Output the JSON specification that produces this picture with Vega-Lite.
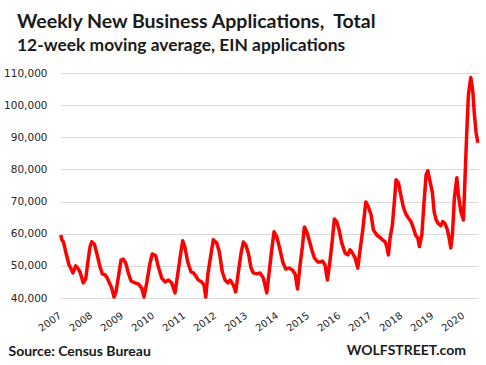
{
  "$schema": "https://vega.github.io/schema/vega-lite/v6.json",
  "width": 418,
  "height": 225,
  "autosize": "none",
  "padding": {"left": 60, "top": 73, "right": 8, "bottom": 67},
  "background": "white",
  "config": {"view": {"stroke": null}},
  "title": {
    "text": "Weekly New Business Applications,\u00a0 Total",
    "subtitle": "12-week moving average, EIN applications",
    "anchor": "start",
    "frame": "group",
    "dx": -43,
    "font": "Lato",
    "fontSize": 19.5,
    "fontWeight": "bold",
    "color": "#1a1a1a",
    "subtitleFont": "Lato",
    "subtitleFontSize": 17.4,
    "subtitleFontWeight": "bold",
    "subtitleColor": "#1a1a1a",
    "subtitlePadding": 4,
    "offset": 13
  },
  "datasets": {
    "series": [
      {"year": 2007.023, "apps": 59600},
      {"year": 2007.065, "apps": 58000},
      {"year": 2007.113, "apps": 57400},
      {"year": 2007.194, "apps": 54000},
      {"year": 2007.290, "apps": 50300},
      {"year": 2007.377, "apps": 48700},
      {"year": 2007.419, "apps": 47800},
      {"year": 2007.506, "apps": 50000},
      {"year": 2007.571, "apps": 49300},
      {"year": 2007.645, "apps": 48100},
      {"year": 2007.752, "apps": 44700},
      {"year": 2007.829, "apps": 45900},
      {"year": 2007.894, "apps": 50900},
      {"year": 2007.968, "apps": 55900},
      {"year": 2008.023, "apps": 57500},
      {"year": 2008.106, "apps": 56800},
      {"year": 2008.184, "apps": 54000},
      {"year": 2008.290, "apps": 49700},
      {"year": 2008.365, "apps": 47500},
      {"year": 2008.452, "apps": 47200},
      {"year": 2008.506, "apps": 46500},
      {"year": 2008.581, "apps": 45000},
      {"year": 2008.668, "apps": 43100},
      {"year": 2008.742, "apps": 40300},
      {"year": 2008.806, "apps": 41900},
      {"year": 2008.903, "apps": 47800},
      {"year": 2008.968, "apps": 51800},
      {"year": 2009.042, "apps": 52100},
      {"year": 2009.119, "apps": 50900},
      {"year": 2009.203, "apps": 47800},
      {"year": 2009.290, "apps": 45300},
      {"year": 2009.419, "apps": 44700},
      {"year": 2009.526, "apps": 44400},
      {"year": 2009.635, "apps": 43100},
      {"year": 2009.710, "apps": 40300},
      {"year": 2009.797, "apps": 44700},
      {"year": 2009.903, "apps": 50900},
      {"year": 2009.977, "apps": 53700},
      {"year": 2010.087, "apps": 53100},
      {"year": 2010.171, "apps": 49700},
      {"year": 2010.281, "apps": 46200},
      {"year": 2010.387, "apps": 45000},
      {"year": 2010.494, "apps": 45600},
      {"year": 2010.603, "apps": 44700},
      {"year": 2010.710, "apps": 41600},
      {"year": 2010.816, "apps": 48700},
      {"year": 2010.894, "apps": 54000},
      {"year": 2010.958, "apps": 57800},
      {"year": 2011.032, "apps": 55600},
      {"year": 2011.119, "apps": 51200},
      {"year": 2011.226, "apps": 48100},
      {"year": 2011.300, "apps": 47800},
      {"year": 2011.377, "apps": 46900},
      {"year": 2011.461, "apps": 45600},
      {"year": 2011.571, "apps": 45000},
      {"year": 2011.645, "apps": 44000},
      {"year": 2011.700, "apps": 40300},
      {"year": 2011.765, "apps": 47200},
      {"year": 2011.839, "apps": 51800},
      {"year": 2011.945, "apps": 58100},
      {"year": 2012.055, "apps": 57100},
      {"year": 2012.139, "apps": 54300},
      {"year": 2012.235, "apps": 48100},
      {"year": 2012.323, "apps": 45600},
      {"year": 2012.410, "apps": 44700},
      {"year": 2012.484, "apps": 45600},
      {"year": 2012.590, "apps": 44000},
      {"year": 2012.668, "apps": 41900},
      {"year": 2012.752, "apps": 48100},
      {"year": 2012.839, "apps": 54000},
      {"year": 2012.913, "apps": 57400},
      {"year": 2012.990, "apps": 56500},
      {"year": 2013.074, "apps": 54000},
      {"year": 2013.161, "apps": 49300},
      {"year": 2013.235, "apps": 47800},
      {"year": 2013.345, "apps": 47500},
      {"year": 2013.452, "apps": 47800},
      {"year": 2013.558, "apps": 46200},
      {"year": 2013.668, "apps": 41600},
      {"year": 2013.742, "apps": 47800},
      {"year": 2013.829, "apps": 55000},
      {"year": 2013.903, "apps": 60600},
      {"year": 2013.990, "apps": 59000},
      {"year": 2014.097, "apps": 55000},
      {"year": 2014.184, "apps": 51200},
      {"year": 2014.281, "apps": 49000},
      {"year": 2014.387, "apps": 49300},
      {"year": 2014.494, "apps": 48700},
      {"year": 2014.581, "apps": 47500},
      {"year": 2014.661, "apps": 42800},
      {"year": 2014.742, "apps": 50300},
      {"year": 2014.816, "apps": 55900},
      {"year": 2014.881, "apps": 62100},
      {"year": 2014.958, "apps": 60600},
      {"year": 2015.032, "apps": 58100},
      {"year": 2015.119, "apps": 55000},
      {"year": 2015.203, "apps": 52500},
      {"year": 2015.313, "apps": 51200},
      {"year": 2015.387, "apps": 51200},
      {"year": 2015.461, "apps": 51500},
      {"year": 2015.548, "apps": 50300},
      {"year": 2015.623, "apps": 45600},
      {"year": 2015.710, "apps": 51800},
      {"year": 2015.784, "apps": 58100},
      {"year": 2015.848, "apps": 64600},
      {"year": 2015.926, "apps": 63700},
      {"year": 2016.000, "apps": 61200},
      {"year": 2016.087, "apps": 57100},
      {"year": 2016.194, "apps": 54000},
      {"year": 2016.281, "apps": 53400},
      {"year": 2016.355, "apps": 55000},
      {"year": 2016.429, "apps": 54000},
      {"year": 2016.516, "apps": 52500},
      {"year": 2016.603, "apps": 49300},
      {"year": 2016.677, "apps": 55000},
      {"year": 2016.765, "apps": 61200},
      {"year": 2016.861, "apps": 69900},
      {"year": 2016.945, "apps": 68300},
      {"year": 2017.032, "apps": 65900},
      {"year": 2017.106, "apps": 61200},
      {"year": 2017.216, "apps": 59600},
      {"year": 2017.323, "apps": 58800},
      {"year": 2017.397, "apps": 58100},
      {"year": 2017.484, "apps": 57500},
      {"year": 2017.539, "apps": 56000},
      {"year": 2017.590, "apps": 53400},
      {"year": 2017.645, "apps": 58700},
      {"year": 2017.719, "apps": 62700},
      {"year": 2017.774, "apps": 69000},
      {"year": 2017.839, "apps": 76800},
      {"year": 2017.913, "apps": 75800},
      {"year": 2017.990, "apps": 72100},
      {"year": 2018.074, "apps": 68300},
      {"year": 2018.152, "apps": 66200},
      {"year": 2018.235, "apps": 64900},
      {"year": 2018.323, "apps": 63700},
      {"year": 2018.397, "apps": 61800},
      {"year": 2018.474, "apps": 59400},
      {"year": 2018.539, "apps": 58700},
      {"year": 2018.590, "apps": 56000},
      {"year": 2018.668, "apps": 59600},
      {"year": 2018.742, "apps": 70000},
      {"year": 2018.806, "apps": 78300},
      {"year": 2018.861, "apps": 79600},
      {"year": 2018.935, "apps": 76200},
      {"year": 2019.010, "apps": 72700},
      {"year": 2019.065, "apps": 66900},
      {"year": 2019.129, "apps": 64300},
      {"year": 2019.203, "apps": 63100},
      {"year": 2019.281, "apps": 62500},
      {"year": 2019.345, "apps": 63800},
      {"year": 2019.419, "apps": 63100},
      {"year": 2019.494, "apps": 61200},
      {"year": 2019.548, "apps": 58700},
      {"year": 2019.603, "apps": 55600},
      {"year": 2019.655, "apps": 59600},
      {"year": 2019.719, "apps": 71200},
      {"year": 2019.797, "apps": 77400},
      {"year": 2019.848, "apps": 72100},
      {"year": 2019.926, "apps": 66900},
      {"year": 2020.010, "apps": 64300},
      {"year": 2020.065, "apps": 78300},
      {"year": 2020.119, "apps": 91800},
      {"year": 2020.171, "apps": 103200},
      {"year": 2020.248, "apps": 108600},
      {"year": 2020.313, "apps": 104300},
      {"year": 2020.365, "apps": 97000},
      {"year": 2020.419, "apps": 91400},
      {"year": 2020.474, "apps": 88300}
    ],
    "credit": [{"label": "WOLFSTREET.com"}]
  },
  "layer": [
    {
      "data": {"name": "series"},
      "mark": {"type": "line", "color": "#ff0000", "strokeWidth": 3.5, "strokeJoin": "round"},
      "encoding": {
        "x": {
          "field": "year",
          "type": "quantitative",
          "scale": {"domain": [2007, 2020.48], "nice": false, "zero": false},
          "axis": {
            "values": [2007, 2008, 2009, 2010, 2011, 2012, 2013, 2014, 2015, 2016, 2017, 2018, 2019, 2020],
            "format": "d",
            "grid": false,
            "domain": false,
            "ticks": false,
            "labelAngle": -36,
            "labelAlign": "right",
            "labelBaseline": "top",
            "labelPadding": 12,
            "labelOffset": -3,
            "labelFont": "DejaVu Sans",
            "labelFontSize": 10,
            "labelColor": "#262626",
            "labelOverlap": false,
            "title": "Source: Census Bureau",
            "titleFont": "Lato",
            "titleFontSize": 14,
            "titleFontWeight": "bold",
            "titleColor": "#1a1a1a",
            "titleAnchor": "start",
            "titleAlign": "left",
            "titleBaseline": "alphabetic",
            "titleX": -52,
            "titleY": 57
          }
        },
        "y": {
          "field": "apps",
          "type": "quantitative",
          "scale": {"domain": [40000, 110000], "nice": false, "zero": false},
          "axis": {
            "values": [40000, 50000, 60000, 70000, 80000, 90000, 100000, 110000],
            "format": ",d",
            "grid": true,
            "gridColor": "#d9d9d9",
            "gridWidth": 1,
            "domain": false,
            "ticks": false,
            "labelPadding": 13,
            "labelFont": "DejaVu Sans",
            "labelFontSize": 10.5,
            "labelColor": "#262626",
            "title": null
          }
        }
      }
    },
    {
      "data": {"name": "credit"},
      "mark": {"type": "text", "align": "right", "baseline": "alphabetic", "dy": 57, "font": "Lato", "fontSize": 14, "fontWeight": "bold", "color": "#1a1a1a"},
      "encoding": {
        "x": {
          "datum": 2020.093,
          "type": "quantitative",
          "scale": {"domain": [2007, 2020.48], "nice": false, "zero": false},
          "axis": {
            "values": [2007, 2008, 2009, 2010, 2011, 2012, 2013, 2014, 2015, 2016, 2017, 2018, 2019, 2020],
            "format": "d",
            "grid": false,
            "domain": false,
            "ticks": false,
            "labelAngle": -36,
            "labelAlign": "right",
            "labelBaseline": "top",
            "labelPadding": 12,
            "labelOffset": -3,
            "labelFont": "DejaVu Sans",
            "labelFontSize": 10,
            "labelColor": "#262626",
            "labelOverlap": false,
            "title": "Source: Census Bureau",
            "titleFont": "Lato",
            "titleFontSize": 14,
            "titleFontWeight": "bold",
            "titleColor": "#1a1a1a",
            "titleAnchor": "start",
            "titleAlign": "left",
            "titleBaseline": "alphabetic",
            "titleX": -52,
            "titleY": 57
          }
        },
        "y": {
          "datum": 40000,
          "type": "quantitative",
          "scale": {"domain": [40000, 110000], "nice": false, "zero": false},
          "axis": {
            "values": [40000, 50000, 60000, 70000, 80000, 90000, 100000, 110000],
            "format": ",d",
            "grid": true,
            "gridColor": "#d9d9d9",
            "gridWidth": 1,
            "domain": false,
            "ticks": false,
            "labelPadding": 13,
            "labelFont": "DejaVu Sans",
            "labelFontSize": 10.5,
            "labelColor": "#262626",
            "title": null
          }
        },
        "text": {"field": "label"}
      }
    }
  ]
}
